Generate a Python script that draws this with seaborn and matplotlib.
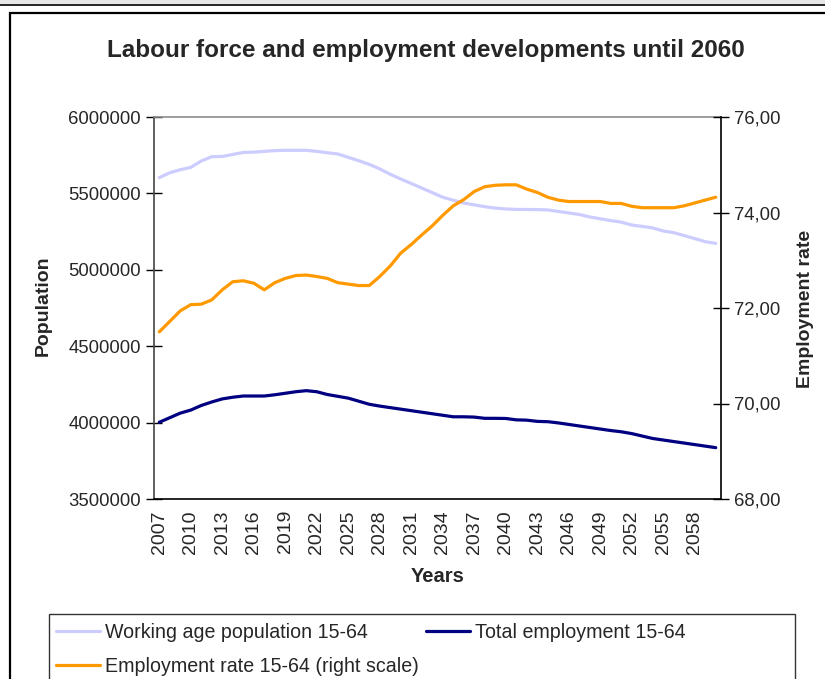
import numpy as np
import pandas as pd
import matplotlib
matplotlib.use("Agg")
import matplotlib.pyplot as plt
from matplotlib.patches import Rectangle
from matplotlib.lines import Line2D
import seaborn as sns

# ---- data -----------------------------------------------------------------
years = list(range(2007, 2061))

working_age_pop = [
    5603000, 5635000, 5655000, 5670000, 5712000, 5740000, 5742000, 5755000, 5768000, 5770000,
    5775000, 5780000, 5782000, 5782000, 5782000, 5775000, 5766000, 5758000, 5736000, 5714000,
    5690000, 5660000, 5625000, 5594000, 5565000, 5535000, 5505000, 5475000, 5455000, 5437000,
    5425000, 5413000, 5404000, 5398000, 5395000, 5395000, 5394000, 5392000, 5382000, 5372000,
    5362000, 5346000, 5334000, 5322000, 5312000, 5293000, 5284000, 5274000, 5254000, 5243000,
    5224000, 5204000, 5184000, 5173000,
]

total_employment = [
    4002000, 4032000, 4062000, 4082000, 4112000, 4135000, 4155000, 4166000, 4174000, 4174000,
    4174000, 4182000, 4192000, 4202000, 4209000, 4202000, 4184000, 4172000, 4160000, 4140000,
    4120000, 4108000, 4098000, 4088000, 4078000, 4068000, 4058000, 4048000, 4038000, 4038000,
    4036000, 4028000, 4028000, 4027000, 4018000, 4016000, 4008000, 4006000, 3998000, 3988000,
    3978000, 3968000, 3958000, 3948000, 3940000, 3928000, 3912000, 3896000, 3886000, 3876000,
    3866000, 3856000, 3846000, 3836000,
]

employment_rate = [
    71.50, 71.72, 71.94, 72.07, 72.08, 72.17, 72.38, 72.55, 72.57, 72.52,
    72.38, 72.53, 72.62, 72.68, 72.69, 72.66, 72.62, 72.53, 72.50, 72.47,
    72.47, 72.66, 72.88, 73.15, 73.33, 73.53, 73.72, 73.94, 74.14, 74.27,
    74.44, 74.54, 74.57, 74.58, 74.58, 74.49, 74.42, 74.32, 74.26, 74.23,
    74.23, 74.23, 74.23, 74.19, 74.19, 74.13, 74.10, 74.10, 74.10, 74.10,
    74.14, 74.20, 74.26, 74.32,
]

pop_ticks = [3500000, 4000000, 4500000, 5000000, 5500000, 6000000]
rate_ticks = [68, 70, 72, 74, 76]
year_labels = years[:-2:3]

series_names = [
    "Working age population 15-64",
    "Total employment 15-64",
    "Employment rate 15-64 (right scale)",
]
colors = ["#CCCCFF", "#000080", "#FF9900"]

# ---- styling --------------------------------------------------------------
sns.set_style("white")
plt.rcParams["font.family"] = ["Liberation Sans", "DejaVu Sans"]

W, H = 825, 679
fig = plt.figure(figsize=(W / 100, H / 100), dpi=100)


def fx(px):
    return px / W


def fy(py):
    return 1 - py / H


# page strip and outer chart frame
fig.patches.append(Rectangle((0, fy(4)), 1, fy(0) - fy(4), transform=fig.transFigure,
                             facecolor="#E6E6E6", edgecolor="none", zorder=0))
fig.lines.append(Line2D([0, 1], [fy(4.5), fy(4.5)], transform=fig.transFigure,
                        color="black", lw=1.2))
fig.patches.append(Rectangle((fx(10), fy(720)), 1.2, fy(13) - fy(720), transform=fig.transFigure,
                             facecolor="none", edgecolor="black", lw=1.6, zorder=1))

ax = fig.add_axes([fx(154), fy(499), fx(721) - fx(154), fy(117) - fy(499)])
ax2 = ax.twinx()

df = pd.DataFrame({
    "Year": years,
    "Working": working_age_pop,
    "Employment": total_employment,
    "Rate": employment_rate,
})

sns.lineplot(data=df, x="Year", y="Working", ax=ax, color=colors[0], linewidth=2.3, legend=False)
sns.lineplot(data=df, x="Year", y="Employment", ax=ax, color=colors[1], linewidth=2.3, legend=False)
sns.lineplot(data=df, x="Year", y="Rate", ax=ax2, color=colors[2], linewidth=2.3, legend=False)

# left axis
ax.set_xlim(2006.5, 2060.5)
ax.set_ylim(3500000, 6000000)
ax.set_yticks(pop_ticks)
ax.set_yticklabels([str(v) for v in pop_ticks])
ax.set_xlabel("")
ax.set_ylabel("")
ax.set_xticks(year_labels)
ax.set_xticklabels([str(y) for y in year_labels], rotation=90)
ax.set_xticks(np.arange(2006.5, 2061, 1), minor=True)
ax.tick_params(axis="x", which="major", length=0, pad=8, labelsize=14)
ax.tick_params(axis="x", which="minor", direction="inout", length=11, width=1, color="black")
ax.tick_params(axis="y", direction="inout", length=11, width=1, color="black", labelsize=13.3, pad=4)

# right axis
ax2.set_ylim(68, 76)
ax2.set_yticks(rate_ticks)
ax2.set_yticklabels([f"{v:.2f}".replace(".", ",") for v in rate_ticks])
ax2.set_ylabel("")
ax2.tick_params(axis="y", direction="inout", length=11, width=1, color="black", labelsize=13.3, pad=4)

for a in (ax, ax2):
    a.set_facecolor("none")
    a.grid(False)
ax.spines["top"].set_color("#8C8C8C")
ax.spines["left"].set_color("#444444")
ax.spines["bottom"].set_color("black")
ax.spines["right"].set_visible(False)
ax2.spines["top"].set_visible(False)
ax2.spines["left"].set_visible(False)
ax2.spines["bottom"].set_visible(False)
ax2.spines["right"].set_color("black")
for s in ax.spines.values():
    s.set_linewidth(1.2)
ax2.spines["right"].set_linewidth(1.2)

# titles
fig.text(fx(426), fy(50), "Labour force and employment developments until 2060",
         ha="center", va="center", fontsize=17.5, fontweight="bold")
fig.text(fx(43), fy(306), "Population", rotation=90, ha="center", va="center",
         fontsize=14, fontweight="bold")
fig.text(fx(806), fy(309), "Employment rate", rotation=90, ha="center", va="center",
         fontsize=14, fontweight="bold")
fig.text(fx(438), fy(577), "Years", ha="center", va="center", fontsize=14.5, fontweight="bold")

# legend box and entries
fig.patches.append(Rectangle((fx(49), fy(720)), fx(795) - fx(49), fy(614) - fy(720),
                             transform=fig.transFigure, facecolor="white",
                             edgecolor="#333333", lw=1, zorder=1))
handles = [Line2D([], [], color=c, lw=2.3) for c in colors]
order = [0, 2, 1]
leg = fig.legend([handles[i] for i in order], [series_names[i] for i in order],
                 ncol=2, loc="upper left", bbox_to_anchor=(fx(56), fy(623)),
                 frameon=False, fontsize=14.1, handlelength=2.25, handletextpad=0.25,
                 columnspacing=0.35, borderaxespad=0, borderpad=0, labelspacing=0.78)
leg.set_zorder(3)

fig.savefig("out.png", dpi=100)
